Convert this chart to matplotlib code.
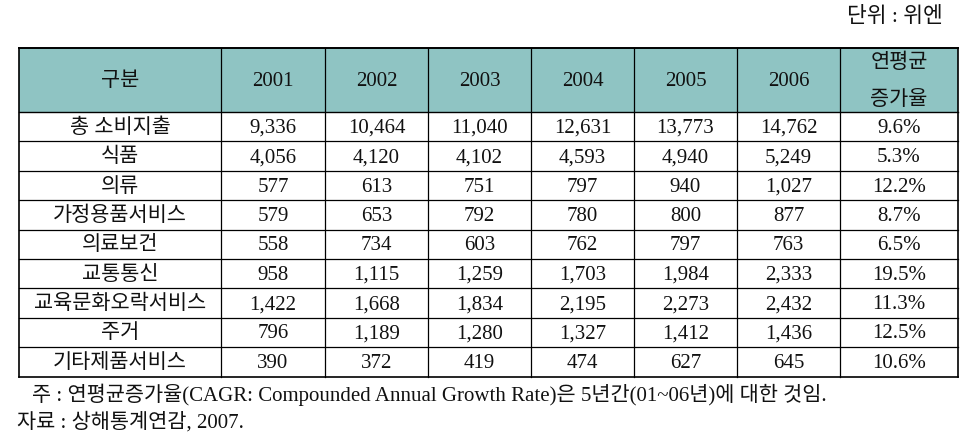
import matplotlib
matplotlib.use("Agg")
import matplotlib.pyplot as plt
from matplotlib.patches import Rectangle

plt.rcParams['font.family'] = ['Liberation Serif', 'Noto Sans CJK KR']

# table data
categories = ['총 소비지출', '식품', '의류', '가정용품서비스', '의료보건',
              '교통통신', '교육문화오락서비스', '주거', '기타제품서비스']
years = ['2001', '2002', '2003', '2004', '2005', '2006']
v2001 = [9336, 4056, 577, 579, 558, 958, 1422, 796, 390]
v2002 = [10464, 4120, 613, 653, 734, 1115, 1668, 1189, 372]
v2003 = [11040, 4102, 751, 792, 603, 1259, 1834, 1280, 419]
v2004 = [12631, 4593, 797, 780, 762, 1703, 2195, 1327, 474]
v2005 = [13773, 4940, 940, 800, 797, 1984, 2273, 1412, 627]
v2006 = [14762, 5249, 1027, 877, 763, 2333, 2432, 1436, 645]
cagr = ['9.6%', '5.3%', '12.2%', '8.7%', '6.5%', '19.5%', '11.3%', '12.5%', '10.6%']
header_first = '구분'
header_last = ['연평균', '증가율']
unit_text = '단위 : 위엔'
note_text = '주 : 연평균증가율(CAGR: Compounded Annual Growth Rate)은 5년간(01~06년)에 대한 것임.'
source_text = '자료 : 상해통계연감, 2007.'

year_values = [v2001, v2002, v2003, v2004, v2005, v2006]

# layout (pixels)
W, H = 976, 441
col_edges = [19, 221, 325, 428, 531, 634, 737, 840, 958]
top = 48
header_h = 64
row_h = 29.4
header_color = '#8fc4c3'
txt = '#111111'
fs = 15
base_off = 6  # baseline below cell centre

fig = plt.figure(figsize=(W / 100, H / 100), dpi=100)
ax = fig.add_axes([0, 0, 1, 1])
ax.set_xlim(0, W)
ax.set_ylim(H, 0)
ax.axis('off')

x0, x1 = col_edges[0], col_edges[-1]
hdr_bot = top + header_h
bottom = hdr_bot + row_h * len(categories)


def cell(x, y, s):
    ax.text(x, y + base_off, s, ha='center', va='baseline', fontsize=fs, color=txt)


# header background
ax.add_patch(Rectangle((x0, top), x1 - x0, header_h, facecolor=header_color,
                       edgecolor='none', zorder=0))

# horizontal lines
ax.plot([x0, x1], [top, top], color='black', lw=1.4)
ax.plot([x0, x1], [hdr_bot, hdr_bot], color='black', lw=1.0)
for i in range(1, len(categories)):
    y = hdr_bot + row_h * i
    ax.plot([x0, x1], [y, y], color='black', lw=0.9)
ax.plot([x0, x1], [bottom, bottom], color='black', lw=1.2)

# vertical lines
for i, x in enumerate(col_edges):
    lw = 1.2 if i in (0, len(col_edges) - 1) else 0.9
    ax.plot([x, x], [top, bottom], color='black', lw=lw)

centers = [(a + b) / 2 for a, b in zip(col_edges[:-1], col_edges[1:])]

# header text
hy = top + header_h / 2
cell(centers[0], hy, header_first)
for c, yr in zip(centers[1:7], years):
    cell(c, hy, yr)
cell(centers[7], hy - 18, header_last[0])
cell(centers[7], hy + 19, header_last[1])

# body
for r, cat in enumerate(categories):
    y = hdr_bot + row_h * (r + 0.5)
    cell(centers[0], y, cat)
    for c, vals in zip(centers[1:7], year_values):
        cell(c, y, f'{vals[r]:,}')
    cell(centers[7], y, cagr[r])

# unit and notes
ax.text(943, 17, unit_text, ha='right', va='center', fontsize=15.5, color=txt)
ax.text(32, bottom + 18, note_text, ha='left', va='center', fontsize=15, color=txt)
ax.text(17, bottom + 46, source_text, ha='left', va='center', fontsize=15, color=txt)

fig.savefig('out.png', dpi=100)
